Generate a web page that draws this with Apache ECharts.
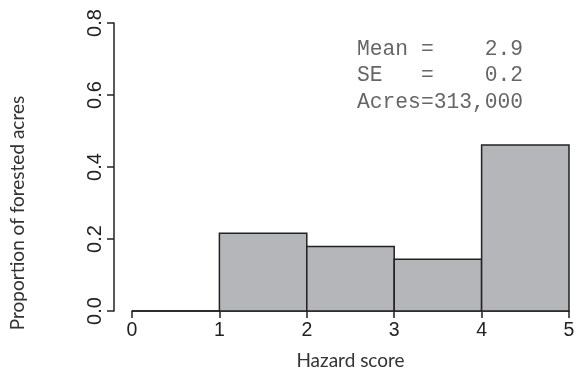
<!DOCTYPE html>
<html><head><meta charset="utf-8">
<script src="https://cdn.jsdelivr.net/npm/echarts@6/dist/echarts.min.js"></script>
<style>html,body{margin:0;padding:0;background:#fff}#c{width:576px;height:375px}</style>
</head><body><div id="c"></div>
<script>
const binStarts = [0, 1, 2, 3, 4];
const binEnds = [1, 2, 3, 4, 5];
const proportions = [0, 0.216, 0.179, 0.144, 0.461];
const xTicks = [0, 1, 2, 3, 4, 5];
const yTicks = [0.0, 0.2, 0.4, 0.6, 0.8];
const statsLines = ['Mean =    2.9', 'SE   =    0.2', 'Acres=313,000'];

const data = binStarts.map((s, i) => [s, binEnds[i], proportions[i]]);
const chart = echarts.init(document.getElementById('c'));
chart.setOption({
  animation: false,
  grid: {left: 132, right: 7, top: 23, bottom: 64, containLabel: false, outerBoundsMode: 'none'},
  xAxis: {
    type: 'value', min: xTicks[0], max: xTicks[xTicks.length - 1], interval: 1,
    splitLine: {show: false},
    axisLine: {show: true, onZero: false, lineStyle: {color: '#222', width: 1.5}},
    axisTick: {show: true, length: 7, lineStyle: {color: '#222', width: 1.5}},
    axisLabel: {color: '#222', fontSize: 19.5, fontFamily: 'Liberation Sans', margin: 10},
    name: 'Hazard score', nameLocation: 'middle', nameGap: 40,
    nameTextStyle: {color: '#333', fontSize: 19, fontFamily: 'Lato'}
  },
  yAxis: {
    type: 'value', min: yTicks[0], max: yTicks[yTicks.length - 1], interval: 0.2,
    offset: 18,
    splitLine: {show: false},
    axisLine: {show: true, onZero: false, lineStyle: {color: '#222', width: 1.5}},
    axisTick: {show: true, length: 7, lineStyle: {color: '#222', width: 1.5}},
    axisLabel: {color: '#222', fontSize: 20, fontFamily: 'Liberation Sans', rotate: 90, margin: 9,
      formatter: v => v.toFixed(1)}
  },
  graphic: [
    {type: 'text', x: 18, y: 213, rotation: Math.PI / 2,
      style: {text: 'Proportion of forested acres', fill: '#333', fontSize: 19, fontFamily: 'Lato',
        textAlign: 'center', textVerticalAlign: 'middle'}},
    {type: 'text', left: 357, top: 36,
      style: {text: statsLines.join('\n'), fill: '#666', fontSize: 21.3, lineHeight: 26.5,
        fontFamily: 'Liberation Mono'}}
  ],
  series: [{
    type: 'custom',
    data: data,
    renderItem: function (params, api) {
      const p0 = api.coord([api.value(0), 0]);
      const p1 = api.coord([api.value(1), api.value(2)]);
      return {
        type: 'rect',
        shape: {x: p0[0], y: p1[1], width: p1[0] - p0[0], height: p0[1] - p1[1]},
        style: {fill: '#b5b6b9', stroke: '#222', lineWidth: 1.5}
      };
    },
    encode: {x: [0, 1], y: 2}
  }]
});
</script></body></html>
